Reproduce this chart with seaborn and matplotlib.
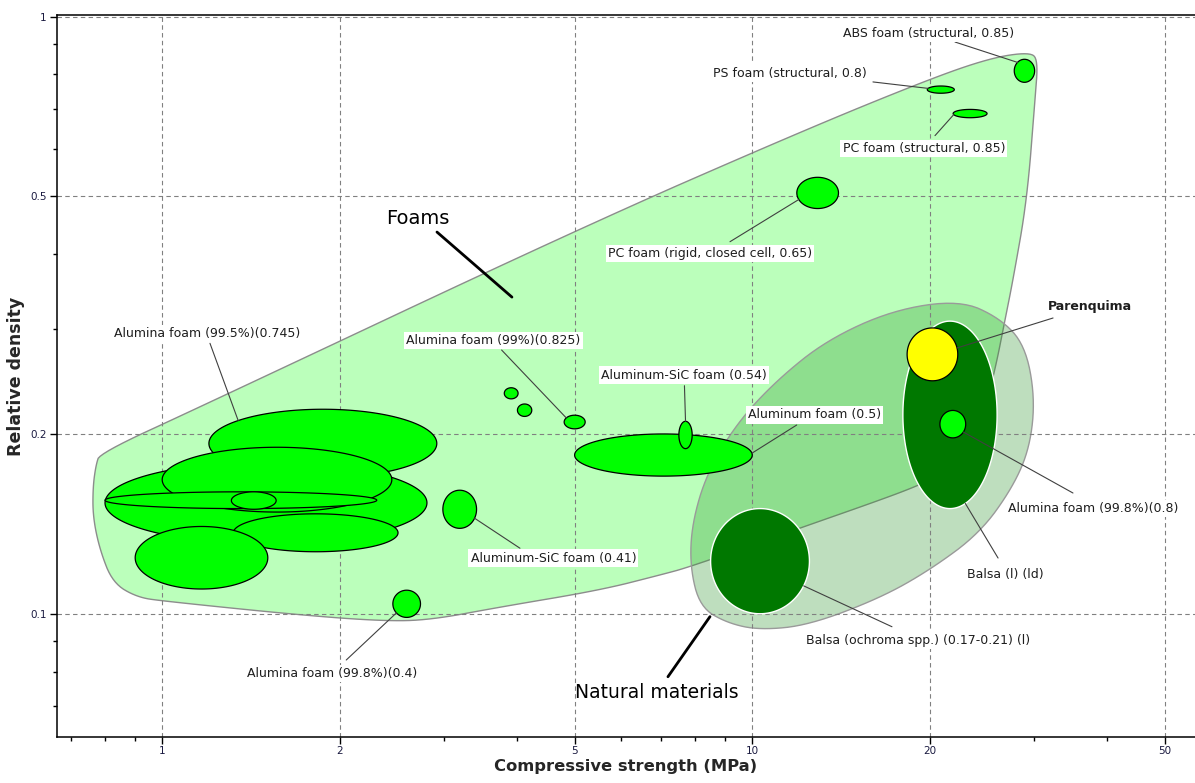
import numpy as np
import matplotlib
matplotlib.use("Agg")
import matplotlib.pyplot as plt
from matplotlib.ticker import FixedLocator, FixedFormatter, LogLocator, NullFormatter
import seaborn as sns

# ---------------------------------------------------------------------------
# Material bubbles: compressive strength range (MPa) and relative density range
# ---------------------------------------------------------------------------
labels = [
    "", "Alumina foam (99.5%)(0.745)", "", "", "", "", "",
    "Alumina foam (99.8%)(0.4)", "Aluminum-SiC foam (0.41)", "", "",
    "Alumina foam (99%)(0.825)", "Aluminum foam (0.5)", "Aluminum-SiC foam (0.54)",
    "PC foam (rigid, closed cell, 0.65)", "PS foam (structural, 0.8)",
    "PC foam (structural, 0.85)", "ABS foam (structural, 0.85)",
    "Balsa (ochroma spp.) (0.17-0.21) (l)", "Balsa (l) (ld)",
    "Alumina foam (99.8%)(0.8)", "Parenquima",
]
family = [
    "foam", "foam", "foam", "foam", "foam", "foam", "foam",
    "foam", "foam", "foam", "foam",
    "foam", "foam", "foam",
    "foam", "foam", "foam", "foam",
    "natural", "natural",
    "foam", "study",
]
strength_lo = [0.80, 1.20, 1.00, 0.80, 1.31, 1.32, 0.90,
               2.46, 2.99, 3.80, 4.00,
               4.80, 5.00, 7.51,
               11.9, 19.8, 21.9, 27.8,
               8.5, 18.0,
               20.8, 18.3]
strength_hi = [2.81, 2.92, 2.45, 2.31, 1.56, 2.51, 1.51,
               2.74, 3.41, 4.01, 4.23,
               5.21, 10.0, 7.91,
               14.0, 22.0, 25.0, 30.1,
               12.5, 26.0,
               23.0, 22.3]
density_lo = [0.131, 0.169, 0.148, 0.150, 0.1496, 0.127, 0.110,
              0.0986, 0.139, 0.229, 0.214,
              0.204, 0.170, 0.189,
              0.477, 0.744, 0.677, 0.776,
              0.100, 0.150,
              0.197, 0.2455]
density_hi = [0.1795, 0.220, 0.190, 0.160, 0.160, 0.147, 0.140,
              0.1095, 0.161, 0.239, 0.2245,
              0.215, 0.200, 0.210,
              0.538, 0.765, 0.699, 0.848,
              0.150, 0.309,
              0.219, 0.301]

# Family envelopes (outline vertices: strength MPa, relative density)
foam_env_strength = [0.7843, 1.1586, 5.106, 12.04, 19.78, 25.29, 29.56, 30.50,
                     30.14, 29.22, 27.66, 26.81, 25.79, 24.51, 22.94, 20.80,
                     19.02, 16.46, 12.04, 7.845, 6.975, 5.519, 3.735, 2.843,
                     2.366, 1.712, 1.003, 0.906, 0.8249, 0.7843, 0.7632,
                     0.7632, 0.7722]
foam_env_density = [0.1858, 0.2219, 0.4423, 0.6406, 0.7829, 0.8520, 0.8720,
                    0.8455, 0.7248, 0.4929, 0.3620, 0.3102, 0.2559, 0.2111,
                    0.1844, 0.1708, 0.1636, 0.1550, 0.1391, 0.1198, 0.1161,
                    0.1095, 0.1026, 0.0976, 0.0972, 0.0995, 0.1050, 0.1066,
                    0.1126, 0.1278, 0.1452, 0.1630, 0.1774]
natural_env_strength = [22.49, 26.29, 28.99, 30.14, 29.56, 27.66, 24.32, 20.01,
                        16.46, 12.48, 10.30, 9.060, 8.156, 7.845, 7.906, 8.381,
                        9.421, 11.01, 13.38, 17.31]
natural_env_density = [0.3351, 0.3126, 0.2818, 0.2306, 0.1902, 0.1630, 0.1365,
                       0.1184, 0.1062, 0.0957, 0.0939, 0.0965, 0.1026, 0.1198,
                       0.1418, 0.1721, 0.2086, 0.2462, 0.2873, 0.3225]

x_ticks = [1, 2, 5, 10, 20, 50]
x_tick_labels = ["1", "2", "5", "10", "20", "50"]
y_ticks = [0.1, 0.2, 0.5, 1]
y_tick_labels = ["0.1", "0.2", "0.5", "1"]

# Label placement: text centre and leader start (axes fraction),
# leader end given as an angle on the bubble outline (degrees)
label_layout = {
    "ABS foam (structural, 0.85)": ((0.7663, 0.9751), (0.7892, 0.9626), 133),
    "PS foam (structural, 0.8)": ((0.6442, 0.9196), (0.7171, 0.9073), 160),
    "PC foam (structural, 0.85)": ((0.7619, 0.8153), (0.7716, 0.8329), 195),
    "PC foam (rigid, closed cell, 0.65)": ((0.5739, 0.6698), (0.5915, 0.6859), 205),
    "Alumina foam (99%)(0.825)": ((0.3836, 0.5487), (0.3909, 0.5358), 143),
    "Aluminum-SiC foam (0.54)": ((0.5513, 0.5012), (0.5515, 0.4864), 90),
    "Aluminum foam (0.5)": ((0.6657, 0.4458), (0.6501, 0.4319), 5),
    "Aluminum-SiC foam (0.41)": ((0.4364, 0.2476), (0.4070, 0.2612), 332),
    "Alumina foam (99.8%)(0.4)": ((0.2422, 0.0878), (0.2544, 0.1063), 222),
    "Alumina foam (99.5%)(0.745)": ((0.1318, 0.5590), (0.1347, 0.5451), 138),
    "Parenquima": ((0.9073, 0.5958), (0.8753, 0.5802), 14),
    "Alumina foam (99.8%)(0.8)": ((0.9107, 0.3165), (0.8928, 0.3377), 325),
    "Balsa (l) (ld)": ((0.8334, 0.2254), (0.8270, 0.2476), 289),
    "Balsa (ochroma spp.) (0.17-0.21) (l)": ((0.7564, 0.1340), (0.7338, 0.1524), 332),
}


def bubble_outline(xlo, xhi, ylo, yhi, n=240):
    """Ellipse spanning the property ranges, drawn in log-log space."""
    lx0, lx1 = np.log10([xlo, xhi])
    ly0, ly1 = np.log10([ylo, yhi])
    t = np.linspace(0, 2 * np.pi, n)
    return (10 ** ((lx0 + lx1) / 2 + (lx1 - lx0) / 2 * np.cos(t)),
            10 ** ((ly0 + ly1) / 2 + (ly1 - ly0) / 2 * np.sin(t)))


def bubble_point(xlo, xhi, ylo, yhi, angle):
    lx0, lx1 = np.log10([xlo, xhi])
    ly0, ly1 = np.log10([ylo, yhi])
    t = np.deg2rad(angle)
    return (10 ** ((lx0 + lx1) / 2 + (lx1 - lx0) / 2 * np.cos(t)),
            10 ** ((ly0 + ly1) / 2 + (ly1 - ly0) / 2 * np.sin(t)))


def smooth_closed(xs, ys, iterations=3):
    """Chaikin corner cutting of a closed outline in log space."""
    p = np.column_stack([np.log10(xs), np.log10(ys)])
    for _ in range(iterations):
        q = np.roll(p, -1, axis=0)
        new = np.empty((2 * len(p), 2))
        new[0::2] = 0.75 * p + 0.25 * q
        new[1::2] = 0.25 * p + 0.75 * q
        p = new
    return 10 ** p[:, 0], 10 ** p[:, 1]


sns.set_theme(style="ticks")
plt.rcParams["font.family"] = ["DejaVu Sans"]
plt.rcParams["axes.linewidth"] = 1.1

fig = plt.figure(figsize=(11.95, 7.83), dpi=100)
ax = fig.add_axes([0.0474, 0.0591, 0.9526, 0.9217])
ax.set_xscale("log")
ax.set_yscale("log")
ax.set_xlim(0.6624, 56.28)
ax.set_ylim(0.06224, 1.0058)

# Family envelopes
fx, fy = smooth_closed(foam_env_strength, foam_env_density, 3)
ax.fill(fx, fy, facecolor="#bbffbb", edgecolor="#8c8c8c", lw=1.0, zorder=0.2)
nx, ny = smooth_closed(natural_env_strength, natural_env_density, 3)
ax.fill(nx, ny, facecolor=(0.16, 0.58, 0.16, 0.30), edgecolor="#9a9a9a", lw=1.0, zorder=0.3)

# Grid above envelopes, below bubbles
ax.set_axisbelow(True)
ax.grid(True, which="major", color="#808080", lw=0.8, ls=(0, (4, 3)))

styles = {
    "foam": dict(facecolor="#00ff00", edgecolor="black", lw=0.9),
    "natural": dict(facecolor="#007800", edgecolor="white", lw=1.0),
    "study": dict(facecolor="#ffff00", edgecolor="black", lw=0.9),
}
for i in range(len(labels)):
    bx, by = bubble_outline(strength_lo[i], strength_hi[i], density_lo[i], density_hi[i])
    ax.fill(bx, by, zorder=2 + i * 0.01, **styles[family[i]])

# Labels with leader lines
for i, lab in enumerate(labels):
    if not lab:
        continue
    pos, start, ang = label_layout[lab]
    end = bubble_point(strength_lo[i], strength_hi[i], density_lo[i], density_hi[i], ang)
    ax.annotate("", xy=end, xycoords="data", xytext=start, textcoords="axes fraction",
                arrowprops=dict(arrowstyle="-", color="#404040", lw=0.8,
                                shrinkA=0, shrinkB=0), zorder=8)
    ax.text(pos[0], pos[1], lab, transform=ax.transAxes, ha="center", va="center",
            fontsize=9, color="#1e1e1e",
            fontweight="bold" if family[i] == "study" else "normal",
            bbox=dict(boxstyle="square,pad=0.18", fc="white", ec="none"), zorder=9)

# Family callouts
ax.annotate("", xy=(3.915, 0.339), xycoords="data", xytext=(0.3341, 0.6993),
            textcoords="axes fraction",
            arrowprops=dict(arrowstyle="-", color="black", lw=2.0, shrinkA=0, shrinkB=0),
            zorder=8)
ax.text(0.3174, 0.7187, "Foams", transform=ax.transAxes, ha="center", va="center",
        fontsize=14, color="black", zorder=9)
ax.annotate("", xy=(8.48, 0.0989), xycoords="data", xytext=(0.5370, 0.0831),
            textcoords="axes fraction",
            arrowprops=dict(arrowstyle="-", color="black", lw=2.0, shrinkA=0, shrinkB=0),
            zorder=8)
ax.text(0.5269, 0.0606, "Natural materials", transform=ax.transAxes, ha="center",
        va="center", fontsize=13.5, color="black", zorder=9)

# Axes, ticks
ax.xaxis.set_major_locator(FixedLocator(x_ticks))
ax.xaxis.set_major_formatter(FixedFormatter(x_tick_labels))
ax.yaxis.set_major_locator(FixedLocator(y_ticks))
ax.yaxis.set_major_formatter(FixedFormatter(y_tick_labels))
ax.xaxis.set_minor_locator(LogLocator(base=10, subs=np.arange(2, 10)))
ax.yaxis.set_minor_locator(LogLocator(base=10, subs=np.arange(2, 10)))
ax.xaxis.set_minor_formatter(NullFormatter())
ax.yaxis.set_minor_formatter(NullFormatter())
ax.tick_params(which="major", direction="out", length=5, width=1.0, labelsize=7.5,
               colors="black", labelcolor="#1a1a40", pad=2)
ax.tick_params(which="minor", direction="out", length=3, width=1.0, colors="black")

for side in ("left", "bottom", "top"):
    ax.spines[side].set_color("black")
sns.despine(ax=ax, top=False, right=True)

ax.set_xlabel("Compressive strength (MPa)", fontsize=11.8, fontweight="bold", labelpad=2)
ax.set_ylabel("Relative density", fontsize=12.5, fontweight="bold", labelpad=4)

fig.savefig("out.png", dpi=100)
